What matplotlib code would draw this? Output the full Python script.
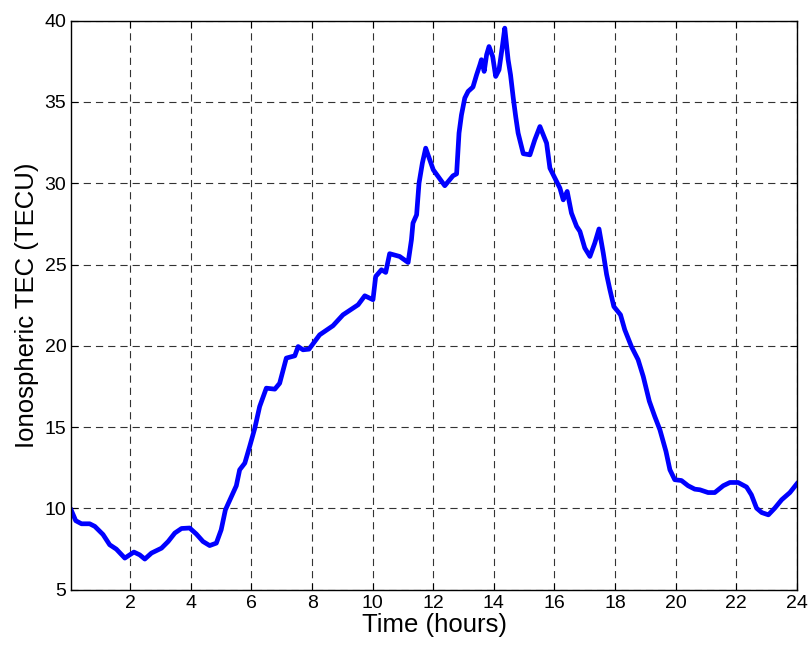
import matplotlib
matplotlib.use("Agg")
import matplotlib.pyplot as plt

# diurnal TEC trace
hours = [
    0.05, 0.2, 0.39, 0.66, 0.83, 1.1, 1.32, 1.54, 1.82, 2.12, 2.31, 2.48,
    2.7, 3.03, 3.25, 3.47, 3.69, 3.96, 4.18, 4.4, 4.62, 4.84, 5.0, 5.14,
    5.34, 5.5, 5.61, 5.78, 5.94, 6.11, 6.27, 6.49, 6.77, 6.93, 7.15, 7.43,
    7.54, 7.7, 7.9, 8.25, 8.69, 9.02, 9.52, 9.74, 10.01, 10.1, 10.29, 10.43,
    10.56, 10.89, 11.17, 11.28, 11.33, 11.45, 11.53, 11.64, 11.75, 12.0,
    12.38, 12.65, 12.77, 12.85, 12.93, 13.04, 13.15, 13.31, 13.43, 13.54,
    13.59, 13.68, 13.76, 13.84, 13.96, 14.06, 14.17, 14.28, 14.36, 14.47,
    14.55, 14.64, 14.72, 14.8, 14.97, 15.19, 15.35, 15.52, 15.74, 15.85,
    16.07, 16.18, 16.29, 16.42, 16.56, 16.73, 16.84, 17.0, 17.17, 17.33,
    17.47, 17.61, 17.72, 17.83, 17.96, 18.18, 18.32, 18.54, 18.76, 18.93,
    19.13, 19.31, 19.48, 19.68, 19.81, 19.97, 20.19, 20.41, 20.63, 20.8,
    21.07, 21.29, 21.57, 21.79, 22.06, 22.34, 22.5, 22.67, 22.84, 23.06,
    23.27, 23.5, 23.77, 24.0,
]
tec = [
    9.9, 9.25, 9.06, 9.06, 8.9, 8.4, 7.77, 7.5, 6.95, 7.32, 7.15, 6.89,
    7.26, 7.56, 7.97, 8.49, 8.77, 8.8, 8.43, 7.97, 7.72, 7.87, 8.69, 9.92,
    10.74, 11.4, 12.38, 12.79, 13.81, 14.94, 16.27, 17.4, 17.34, 17.7, 19.25, 19.39,
    19.96, 19.76, 19.8, 20.68, 21.24, 21.91, 22.53, 23.08, 22.84, 24.27, 24.68, 24.52,
    25.67, 25.5, 25.13, 26.53, 27.55, 28.06, 30.01, 31.24, 32.16, 30.83,
    29.85, 30.46, 30.58, 33.09, 34.2, 35.24, 35.65, 35.92, 36.67, 37.29,
    37.6, 36.88, 37.9, 38.41, 37.8, 36.57, 36.98, 38.41, 39.54, 37.6,
    36.67, 35.24, 34.11, 33.09, 31.82, 31.75, 32.67, 33.49, 32.47, 30.93,
    30.11, 29.7, 28.98, 29.5, 28.17, 27.35, 27.04, 26.02, 25.5, 26.32,
    27.19, 25.71, 24.4, 23.45, 22.42, 21.91, 20.99, 19.96, 19.15, 18.12,
    16.6, 15.66, 14.84, 13.51, 12.38, 11.77, 11.72, 11.4, 11.19, 11.15,
    10.98, 10.98, 11.4, 11.6, 11.6, 11.32, 10.84, 10.02, 9.75, 9.61,
    10.02, 10.54, 10.98, 11.52,
]

plt.rcParams["font.family"] = ["Liberation Sans", "DejaVu Sans"]

fig = plt.figure(figsize=(8.09, 6.46), dpi=100)
ax = fig.add_axes([0.088, 0.087, 0.897, 0.881])

ax.plot(hours, tec, color="#0000ff", lw=3.4, solid_joinstyle="round")

ax.set_xlim(0.05, 24)
ax.set_ylim(5, 40)
ax.set_xticks(range(2, 25, 2))
ax.set_yticks(range(5, 41, 5))
ax.tick_params(direction="in", top=True, right=True, labelsize=14, length=5)
ax.grid(True, color="0.2", ls=(0, (6.5, 4.5)), lw=0.8)
for s in ax.spines.values():
    s.set_linewidth(1.0)

ax.set_xlabel("Time (hours)", fontsize=18.5, labelpad=1)
ax.set_ylabel("Ionospheric TEC (TECU)", fontsize=18.5, labelpad=4)

fig.savefig("out.png", dpi=100)
